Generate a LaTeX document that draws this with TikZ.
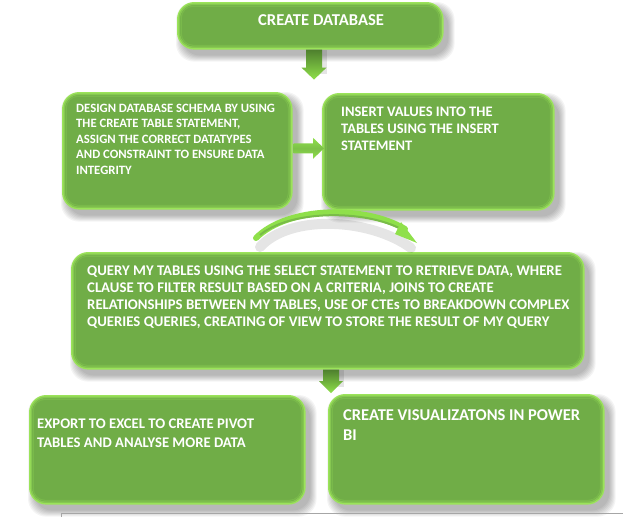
\documentclass[tikz,border=0pt]{standalone}
\usepackage{fontspec}
\setmainfont{Carlito}
\usetikzlibrary{calc,arrows.meta}
\definecolor{boxfill}{HTML}{70AD47}
\definecolor{glow}{HTML}{9BE35A}
\definecolor{arrdark}{HTML}{4E7F2E}
\definecolor{arrlight}{HTML}{8FE04A}
\tikzset{
  gbox/.style={draw=glow, line width=2.6pt, fill=boxfill, rounded corners=16pt, inner sep=0pt, anchor=north west},
  gtext/.style={text=white, anchor=base west, inner sep=0pt},
}
\newcommand\fuzzyshadow[1]{%
  \foreach \k in {0,...,6}{
    \fill[black, opacity=0.045, rounded corners=18pt]
      ($(#1.north west)+(5-\k,6-\k)$) rectangle ($(#1.south east)+(5+\k,6+\k)$);
  }}
\newcommand\innerglow[1]{%
  \draw[glow!50!boxfill, line width=1.5pt, rounded corners=14pt]
      ($(#1.north west)+(2.4,2.4)$) rectangle ($(#1.south east)+(-2.4,-2.4)$);
  \draw[glow!22!boxfill, line width=1.2pt, rounded corners=12pt]
      ($(#1.north west)+(4.2,4.2)$) rectangle ($(#1.south east)+(-4.2,-4.2)$);}
\newcommand\toplines[1]{\vtop{\halign{##\hfil\cr#1\crcr}}}
\begin{document}
\begin{tikzpicture}[x=1pt,y=-1pt]
\useasboundingbox (0,0) rectangle (623,517);
\fill[white] (0,0) rectangle (623,517);
% boxes
\node[gbox, minimum width=264pt, minimum height=45pt, path only] (t) at (177,2) {};
\node[gbox, minimum width=228pt, minimum height=115pt, path only] (d) at (62,92) {};
\node[gbox, minimum width=230pt, minimum height=115pt, path only] (i) at (322,93) {};
\node[gbox, minimum width=511pt, minimum height=115pt, path only] (q) at (71,252) {};
\node[gbox, minimum width=274pt, minimum height=107pt, path only] (e) at (29,395) {};
\node[gbox, minimum width=274pt, minimum height=108pt, path only] (v) at (328,394) {};
\foreach \n in {t,d,i,q,e,v}{\fuzzyshadow{\n}}
\node[gbox, minimum width=264pt, minimum height=45pt] at (177,2) {};
\node[gbox, minimum width=228pt, minimum height=115pt] at (62,92) {};
\node[gbox, minimum width=230pt, minimum height=115pt] at (322,93) {};
\node[gbox, minimum width=511pt, minimum height=115pt] at (71,252) {};
\node[gbox, minimum width=274pt, minimum height=107pt] at (29,395) {};
\node[gbox, minimum width=274pt, minimum height=108pt] at (328,394) {};
\foreach \n in {t,d,i,q,e,v}{\innerglow{\n}}
% texts
\node[gtext, font=\fontsize{16.6}{18}\selectfont\bfseries] (tt) at (258,25) {CREATE DATABASE};
\node[gtext, font=\fontsize{12.7}{15.5}\selectfont\bfseries] (dt) at (76,112)
  {\toplines{DESIGN DATABASE SCHEMA BY USING\cr THE CREATE TABLE STATEMENT,\cr ASSIGN THE CORRECT DATATYPES\cr AND CONSTRAINT TO ENSURE DATA\cr INTEGRITY}};
\node[gtext, font=\fontsize{14.5}{17}\selectfont\bfseries] (it) at (341,116)
  {\toplines{INSERT VALUES INTO THE\cr TABLES USING THE INSERT\cr STATEMENT}};
\node[gtext, font=\fontsize{14.75}{17}\selectfont\bfseries] (qt) at (87,275)
  {\toplines{QUERY MY TABLES USING THE SELECT STATEMENT TO RETRIEVE DATA, WHERE\cr CLAUSE TO FILTER RESULT BASED ON A CRITERIA, JOINS TO CREATE\cr RELATIONSHIPS BETWEEN MY TABLES, USE OF CTEs TO BREAKDOWN COMPLEX\cr QUERIES QUERIES, CREATING OF VIEW TO STORE THE RESULT OF MY QUERY}};
\node[gtext, font=\fontsize{14.7}{19}\selectfont\bfseries] (et) at (37,428)
  {\toplines{EXPORT TO EXCEL TO CREATE PIVOT\cr TABLES AND ANALYSE MORE DATA}};
\node[gtext, font=\fontsize{16.5}{20}\selectfont\bfseries] (vt) at (343,420)
  {\toplines{CREATE VISUALIZATONS IN POWER\cr BI}};
% arrow 1 (down from title)
\coordinate (a1s) at ($(t.south west)+(137,0)$);
\coordinate (a1e) at ($(a1s)+(0,30)$);
\fill[black,opacity=0.10] ($(a1s)+(-3,0)$) rectangle ($(a1e)+(13,-6)$);
\shade[top color=arrdark, bottom color=arrlight]
  ($(a1s)+(-8,0)$) -- ($(a1e)+(-8,-12)$) -- ($(a1e)+(-12.5,-12)$) -- (a1e)
  -- ($(a1e)+(12.5,-12)$) -- ($(a1e)+(8,-12)$) -- ($(a1s)+(8,0)$) -- cycle;
% arrow 2 (right)
\coordinate (a2s) at ($(d.east)+(1,-2.5)$);
\coordinate (a2e) at ($(i.west)+(2,-3.5)$);
\shade[top color=arrlight, bottom color=arrlight, middle color=boxfill!60!arrlight]
  ($(a2s)+(0,-5)$) -- ($(a2e)+(-11,-5)$) -- ($(a2e)+(-11,-10.5)$) -- (a2e)
  -- ($(a2e)+(-11,10.5)$) -- ($(a2e)+(-11,5)$) -- ($(a2s)+(0,5)$) -- cycle;
% curved arrow
\coordinate (c1) at (256,238);
\coordinate (c2) at (417,243);
\draw[black, opacity=0.10, line width=10pt, line cap=round] ($(c1)+(4,9)$) .. controls (290,214) and (370,218) .. ($(c2)+(-6,5)$);
\draw[arrlight, line width=6pt, line cap=round] (c1) .. controls (288,206) and (365,205) .. ($(c2)+(-12,-14)$);
\draw[boxfill!70!arrlight, line width=2pt] ($(c1)+(4,-3)$) .. controls (290,210) and (365,209) .. ($(c2)+(-14,-13)$);
\fill[arrlight] (c2) -- ($(c2)+(-16,-21)$) -- ($(c2)+(-22,-9)$) -- cycle;
% arrow 3 (down to visualisation)
\coordinate (a3s) at ($(q.south west)+(260,0)$);
\coordinate (a3e) at ($(v.north west)+(3,-1)$);
\fill[black,opacity=0.10] ($(a3s)+(-3,0)$) rectangle ($(a3e)+(13,-6)$);
\shade[top color=arrdark, bottom color=arrlight]
  ($(a3s)+(-8,0)$) -- ($(a3e)+(-8,-12)$) -- ($(a3e)+(-12,-12)$) -- (a3e)
  -- ($(a3e)+(12,-12)$) -- ($(a3e)+(8,-12)$) -- ($(a3s)+(8,0)$) -- cycle;
% bottom frame line
\draw[gray!70, line width=1pt] (61,517) -- (61,513.5) -- (623,513.5);
\end{tikzpicture}
\end{document}
